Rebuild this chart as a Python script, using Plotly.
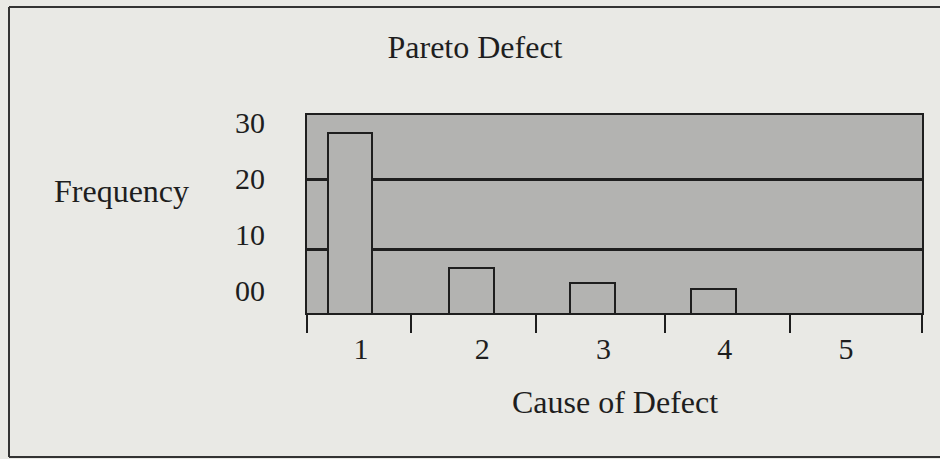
import plotly.graph_objects as go

# ---- data ----
causes = [1, 2, 3, 4, 5]
frequency = [26.7, 7.3, 5.1, 4.3, 0]
y_tick_vals = [0, 10, 20, 30]
y_tick_text = ["00", "10", "20", "30"]
x_tick_text = ["1", "2", "3", "4", "5"]
grid_vals = [10, 20]

title_text = "Pareto Defect"
x_title = "Cause of Defect"
y_title = "Frequency"

# ---- layout geometry ----
W, H = 940, 459
L, R, T, B = 307, 18, 115, 146
plot_w = W - L - R
plot_h = H - T - B

FONT = "Liberation Serif, Times New Roman, serif"
INK = "#1e1e1e"
PAPER = "#e9e9e5"
TEXTURE = "#b3b3b1"

x_range = [0.645, 5.716]
x_label_shift = 0.09
y_range = [0.8, 29.3]
y2_range = [-4.1, 31.25]

def px_to_paper_x(px):
    return (px - L) / plot_w

def px_to_paper_y(py):
    return (H - B - py) / plot_h

fig = go.Figure()

fig.add_trace(go.Bar(
    x=causes, y=frequency, width=0.37,
    marker=dict(color=TEXTURE, line=dict(color=INK, width=2)),
    xaxis="x", yaxis="y", showlegend=False, hoverinfo="skip",
))

# invisible helper trace so the label axes are drawn
fig.add_trace(go.Scatter(
    x=causes, y=frequency, mode="markers",
    marker=dict(opacity=0), xaxis="x2", yaxis="y2",
    showlegend=False, hoverinfo="skip",
))

fig.update_layout(
    width=W, height=H,
    margin=dict(l=L, r=R, t=T, b=B, pad=0),
    paper_bgcolor=PAPER,
    plot_bgcolor=TEXTURE,
    font=dict(family=FONT, color=INK),
    bargap=0,
    title=dict(
        text=title_text, x=475 / W, xanchor="center",
        yref="container", y=1 - 47 / H, yanchor="middle",
        font=dict(size=32, family=FONT, color=INK),
    ),
    xaxis=dict(
        range=x_range, showgrid=False, zeroline=False,
        showline=True, linecolor=INK, linewidth=2, mirror=True,
        tickmode="array",
        tickvals=[x_range[0], 1.5, 2.53, 3.6, 4.63, x_range[1]],
        ticks="outside", ticklen=18, tickwidth=2, tickcolor=INK,
        showticklabels=False,
    ),
    xaxis2=dict(
        range=[x_range[0] - x_label_shift, x_range[1] - x_label_shift],
        overlaying="x", anchor="y", side="bottom",
        showgrid=False, zeroline=False, showline=False,
        tickmode="array", tickvals=causes, ticktext=x_tick_text,
        ticks="", ticklabelstandoff=15,
        tickfont=dict(size=30, family=FONT, color=INK),
    ),
    yaxis=dict(
        range=y_range, zeroline=False,
        showline=True, linecolor=INK, linewidth=2, mirror=True,
        showgrid=True, gridcolor=INK, gridwidth=2.5,
        tickmode="array", tickvals=grid_vals,
        ticks="", showticklabels=False,
    ),
    yaxis2=dict(
        range=y2_range, overlaying="y", anchor="x", side="left",
        showgrid=False, zeroline=False, showline=False,
        tickmode="array", tickvals=y_tick_vals, ticktext=y_tick_text,
        ticks="", ticklabelstandoff=41,
        tickfont=dict(size=30, family=FONT, color=INK),
    ),
)

fig.add_annotation(
    text=y_title, xref="paper", yref="paper",
    x=px_to_paper_x(122), y=px_to_paper_y(191),
    xanchor="center", yanchor="middle", showarrow=False,
    font=dict(size=32, family=FONT, color=INK),
)
fig.add_annotation(
    text=x_title, xref="paper", yref="paper",
    x=px_to_paper_x(615), y=px_to_paper_y(402),
    xanchor="center", yanchor="middle", showarrow=False,
    font=dict(size=32, family=FONT, color=INK),
)

# outer frame of the figure: left, top and bottom edges only
frame = dict(color="#333333", width=2)
fx0, fx1 = px_to_paper_x(9), px_to_paper_x(W)
fy0, fy1 = px_to_paper_y(457), px_to_paper_y(7)
for x0, y0, x1, y1 in [(fx0, fy0, fx0, fy1), (fx0, fy1, fx1, fy1), (fx0, fy0, fx1, fy0)]:
    fig.add_shape(type="line", xref="paper", yref="paper", layer="above",
                  x0=x0, y0=y0, x1=x1, y1=y1, line=frame)

fig.write_html(
    "out.html",
    config={"displayModeBar": False},
    post_script="document.body.style.margin='0px';document.body.style.overflow='hidden';",
)
